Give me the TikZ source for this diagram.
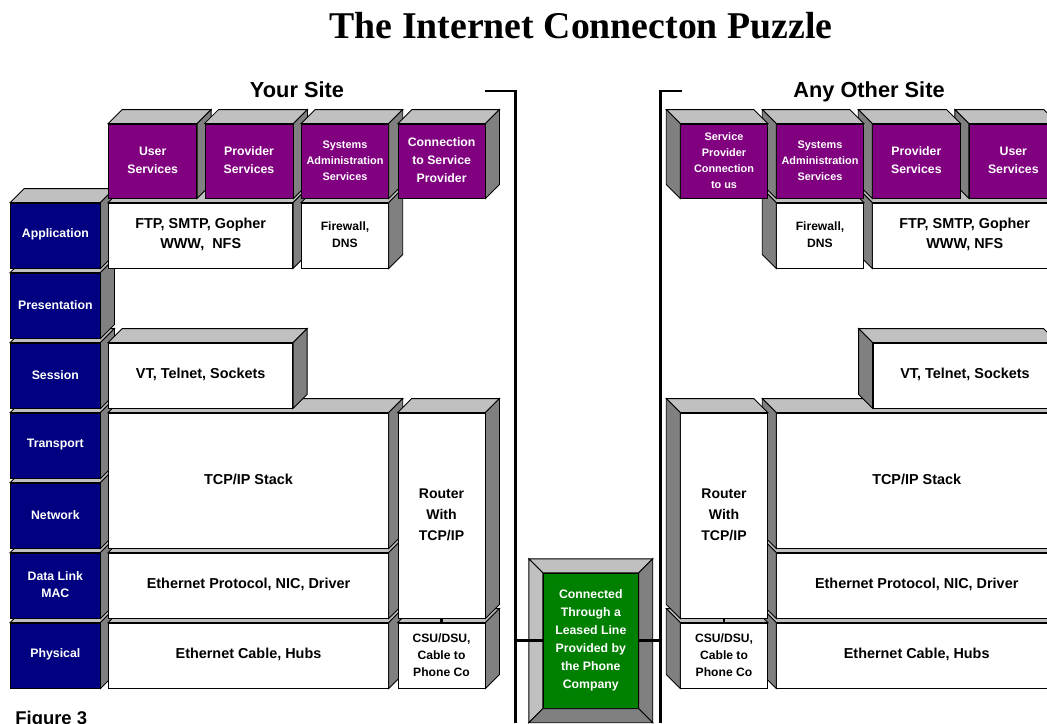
\documentclass[tikz,border=0pt]{standalone}
\usepackage{fontspec}
\setmainfont{Liberation Sans}
\newfontfamily\titlefont{Liberation Serif}
\usetikzlibrary{fit}

\definecolor{osinavy}{RGB}{0,0,128}
\definecolor{svcpurple}{RGB}{128,0,128}
\definecolor{leasegreen}{RGB}{0,128,0}
\definecolor{facelight}{RGB}{192,192,192}
\definecolor{facedark}{RGB}{128,128,128}

\tikzset{
  block/.style={draw, line width=0.5pt, inner sep=0pt},
  layer/.style={block, fill=osinavy},
  service/.style={block, fill=svcpurple},
  proto/.style={block, fill=white},
  boxtxt/.style={inner sep=0pt, align=center, yshift=0.4pt, font=\bfseries\fontsize{8.2}{11.3}\selectfont},
  whitetxt/.style={boxtxt, text=white, font=\bfseries\fontsize{7}{10.4}\selectfont},
  smalltxt/.style={font=\bfseries\fontsize{6.9}{9.6}\selectfont},
  tinytxt/.style={font=\bfseries\fontsize{6.2}{9.1}\selectfont},
  routertxt/.style={font=\bfseries\fontsize{8}{11.7}\selectfont},
  sitecap/.style={font=\bfseries\fontsize{12.4}{15}\selectfont, inner sep=0pt},
  topface/.style={fill=facelight, draw, line width=0.5pt},
  sideface/.style={fill=facedark, draw, line width=0.5pt},
  bracket/.style={line width=1.7pt},
}

% depth faces: up-right (your site) and up-left (other site)
\newcommand{\depthR}[1]{%
  \draw[topface] (#1.north west) -- ++(14,-14) -- ([shift={(14,-14)}]#1.north east) -- (#1.north east) -- cycle;
  \draw[sideface] (#1.north east) -- ([shift={(14,-14)}]#1.north east) -- ([shift={(14,-14)}]#1.south east) -- (#1.south east) -- cycle;}
\newcommand{\depthL}[1]{%
  \draw[topface] (#1.north east) -- ++(-14,-14) -- ([shift={(-14,-14)}]#1.north west) -- (#1.north west) -- cycle;
  \draw[sideface] (#1.north west) -- ([shift={(-14,-14)}]#1.north west) -- ([shift={(-14,-14)}]#1.south west) -- (#1.south west) -- cycle;}

\begin{document}
\begin{tikzpicture}[x=0.02cm, y=-0.02cm]
    \useasboundingbox (0,0) rectangle (1047,723);

    % captions
    \node[font=\titlefont\bfseries\fontsize{21.5}{25}\selectfont, inner sep=0pt, anchor=base] (title) at (581,39) {The Internet Connecton Puzzle};
    \node[sitecap, anchor=base] (yoursite) at (297,97) {Your Site};
    \node[sitecap, anchor=base] (othersite) at (869,97) {Any Other Site};
    \node[font=\bfseries\fontsize{10.5}{12}\selectfont, inner sep=0pt, anchor=north west] (figlabel) at (15,711) {Figure 3};

    % OSI layers
    \node[layer, fit={(10.7,623) (100,688)}] (phys) {}; \depthR{phys}
    \node[whitetxt] (physT) at (phys) {Physical};
    \node[layer, fit={(10.7,553) (100,618)}] (dlink) {}; \depthR{dlink}
    \node[whitetxt, font=\bfseries\fontsize{7}{10}\selectfont] (dlinkT) at (dlink) {Data Link\\MAC};
    \node[layer, fit={(10.7,483) (100,548)}] (net) {}; \depthR{net}
    \node[whitetxt] (netT) at (net) {Network};
    \node[layer, fit={(10.7,413) (100,478)}] (trans) {}; \depthR{trans}
    \node[whitetxt] (transT) at (trans) {Transport};
    \node[layer, fit={(10.7,343) (100,408)}] (sess) {}; \depthR{sess}
    \node[whitetxt] (sessT) at (sess) {Session};
    \node[layer, fit={(10.7,273) (100,338)}] (pres) {}; \depthR{pres}
    \node[whitetxt] (presT) at (pres) {Presentation};
    \node[layer, fit={(10.7,203) (100,268)}] (app) {}; \depthR{app}
    \node[whitetxt] (appT) at (app) {Application};

    % your site
    \node[proto, fit={(108.7,623) (388.3,688)}] (ethcabL) {}; \depthR{ethcabL}
    \node[boxtxt] (ethcabLT) at (ethcabL) {Ethernet Cable, Hubs};
    \node[proto, fit={(398,623) (485,688)}] (csuL) {}; \depthR{csuL}
    \node[boxtxt, smalltxt] (csuLT) at (csuL) {CSU/DSU,\\Cable to\\Phone Co};
    \node[proto, fit={(108.7,553) (388.3,618)}] (ethproL) {}; \depthR{ethproL}
    \node[boxtxt] (ethproLT) at (ethproL) {Ethernet Protocol, NIC, Driver};
    \node[proto, fit={(108.7,413) (388.3,548)}] (tcpL) {}; \depthR{tcpL}
    \node[boxtxt] (tcpLT) at (tcpL) {TCP/IP Stack};
    \node[proto, fit={(398,413) (485,618)}] (rtrL) {}; \depthR{rtrL}
    \node[boxtxt, routertxt] (rtrLT) at (rtrL) {Router\\With\\TCP/IP};
    \node[proto, fit={(108.7,343) (292.7,408)}] (vtL) {}; \depthR{vtL}
    \node[boxtxt] (vtLT) at (vtL) {VT, Telnet, Sockets};
    \node[proto, fit={(108.7,203) (292.7,268)}] (ftpL) {}; \depthR{ftpL}
    \node[boxtxt] (ftpLT) at (ftpL) {FTP, SMTP, Gopher\\WWW,\ \ NFS};
    \node[proto, fit={(301.7,203) (388.3,268)}] (fwL) {}; \depthR{fwL}
    \node[boxtxt, smalltxt] (fwLT) at (fwL) {Firewall,\\DNS};
    \node[service, fit={(108.7,124) (196.7,198)}] (userL) {}; \depthR{userL}
    \node[whitetxt] (userLT) at (userL) {User\\Services};
    \node[service, fit={(205,124) (293,198)}] (provL) {}; \depthR{provL}
    \node[whitetxt] (provLT) at (provL) {Provider\\Services};
    \node[service, fit={(301.7,124) (388.3,198)}] (sysL) {}; \depthR{sysL}
    \node[whitetxt, tinytxt] (sysLT) at (sysL) {Systems\\Administration\\Services};
    \node[service, fit={(398.3,124) (485,198)}] (connL) {}; \depthR{connL}
    \node[whitetxt, font=\bfseries\fontsize{7}{10.2}\selectfont] (connLT) at (connL) {Connection\\to Service\\Provider};
    \draw[line width=1.2pt] (rtrL.south) -- (csuL.north);

    % any other site
    \node[proto, fit={(776.7,623) (1056.7,688)}] (ethcabR) {}; \depthL{ethcabR}
    \node[boxtxt] (ethcabRT) at (ethcabR) {Ethernet Cable, Hubs};
    \node[proto, fit={(680.7,623) (767.3,688)}] (csuR) {}; \depthL{csuR}
    \node[boxtxt, smalltxt] (csuRT) at (csuR) {CSU/DSU,\\Cable to\\Phone Co};
    \node[proto, fit={(776.7,553) (1056.7,618)}] (ethproR) {}; \depthL{ethproR}
    \node[boxtxt] (ethproRT) at (ethproR) {Ethernet Protocol, NIC, Driver};
    \node[proto, fit={(776.7,413) (1056.7,548)}] (tcpR) {}; \depthL{tcpR}
    \node[boxtxt] (tcpRT) at (tcpR) {TCP/IP Stack};
    \node[proto, fit={(680.7,413) (767.3,618)}] (rtrR) {}; \depthL{rtrR}
    \node[boxtxt, routertxt] (rtrRT) at (rtrR) {Router\\With\\TCP/IP};
    \node[proto, fit={(873,343) (1057,408)}] (vtR) {}; \depthL{vtR}
    \node[boxtxt] (vtRT) at (vtR) {VT, Telnet, Sockets};
    \node[proto, fit={(872.7,203) (1056.7,268)}] (ftpR) {}; \depthL{ftpR}
    \node[boxtxt] (ftpRT) at (ftpR) {FTP, SMTP, Gopher\\WWW, NFS};
    \node[proto, fit={(776.7,203) (863.3,268)}] (fwR) {}; \depthL{fwR}
    \node[boxtxt, smalltxt] (fwRT) at (fwR) {Firewall,\\DNS};
    \node[service, fit={(969.3,124) (1057.3,198)}] (userR) {}; \depthL{userR}
    \node[whitetxt] (userRT) at (userR) {User\\Services};
    \node[service, fit={(872.7,124) (960,198)}] (provR) {}; \depthL{provR}
    \node[whitetxt] (provRT) at (provR) {Provider\\Services};
    \node[service, fit={(776.7,124) (863.3,198)}] (sysR) {}; \depthL{sysR}
    \node[whitetxt, tinytxt] (sysRT) at (sysR) {Systems\\Administration\\Services};
    \node[service, fit={(680.7,124) (767.3,198)}] (spcR) {}; \depthL{spcR}
    \node[whitetxt, tinytxt] (spcRT) at (spcR) {Service\\Provider\\Connection\\to us};
    \draw[line width=1.2pt] (rtrR.south) -- (csuR.north);

    % leased line
    \node[block, fill=leasegreen, fit={(543.3,573.3) (638.3,708.3)}] (leased) {};
    \node[whitetxt, font=\bfseries\fontsize{7}{10.2}\selectfont] (leasedT) at (leased) {Connected\\Through a\\Leased Line\\Provided by\\the Phone\\Company};
    \draw[topface] ([shift={(-14,-14)}]leased.north west) -- ([shift={(14,-14)}]leased.north east) -- (leased.north east) -- (leased.north west) -- cycle;
    \draw[topface] ([shift={(-14,-14)}]leased.north west) -- (leased.north west) -- (leased.south west) -- ([shift={(-14,14)}]leased.south west) -- cycle;
    \draw[sideface] ([shift={(14,-14)}]leased.north east) -- ([shift={(14,14)}]leased.south east) -- (leased.south east) -- (leased.north east) -- cycle;
    \draw[sideface] ([shift={(-14,14)}]leased.south west) -- (leased.south west) -- (leased.south east) -- ([shift={(14,14)}]leased.south east) -- cycle;

    % site brackets
    \coordinate (lbtop) at (485,91);
    \coordinate (lbcorner) at (515,91);
    \coordinate (lbfoot) at (515,723);
    \coordinate (rbtop) at (682,91);
    \coordinate (rbcorner) at (660,91);
    \coordinate (rbfoot) at (660,723);
    \draw[bracket] (lbtop) -- (lbcorner) -- (lbfoot);
    \draw[bracket] (rbtop) -- (rbcorner) -- (rbfoot);
    \draw[bracket] (lbcorner |- leased.west) -- (leased.west);
    \draw[bracket] (leased.east) -- (rbcorner |- leased.east);
\end{tikzpicture}
\end{document}
